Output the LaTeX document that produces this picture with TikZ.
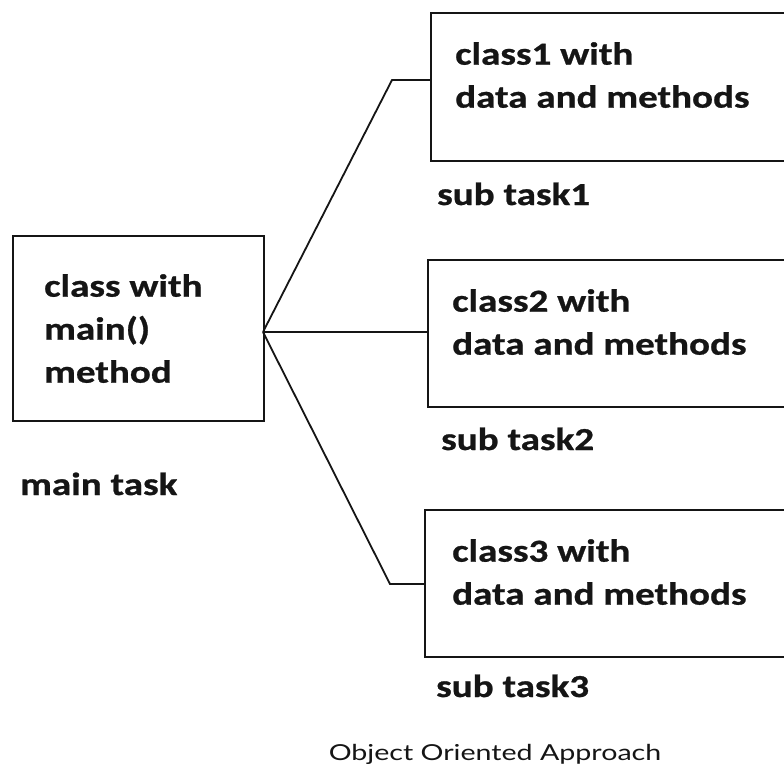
\documentclass[tikz,border=0pt]{standalone}
\usepackage{fontspec}
\newfontfamily\boxfont{Carlito}[FakeStretch=1.22, BoldFeatures={FakeBold=0.8}]
\newfontfamily\capfont{Lato}[FakeStretch=1.3]
\definecolor{ink}{HTML}{151515}
\tikzset{
  x=1pt, y=-1pt,
  classbox/.style={draw=ink, line width=2.2pt, rectangle, inner sep=0pt, anchor=north west},
  boxtext/.style={anchor=north west, inner sep=0pt, align=left, text=ink,
    font=\boxfont\bfseries\fontsize{32}{43}\selectfont},
  tasklabel/.style={anchor=base west, inner sep=0pt, text=ink,
    font=\boxfont\bfseries\fontsize{32}{43}\selectfont},
  link/.style={draw=ink, line width=1.8pt, line join=miter},
}
\begin{document}
\begin{tikzpicture}
  \useasboundingbox (0,0) rectangle (784,774);
  \clip (0,0) rectangle (784,774);
  \fill[white] (0,0) rectangle (784,774);

  % main class
  \node[classbox, minimum width=251pt, minimum height=185pt] (main) at (12,235) {};
  \node[boxtext] (maintxt) at (44,274) {class with\\main()\\method};
  \node[tasklabel] (mainlbl) at (20,495) {main task};

  % sub classes (right edges run off the page)
  \node[classbox, minimum width=370pt, minimum height=148pt] (b1) at (430,12) {};
  \node[boxtext] (t1) at (455,42) {class1 with\\data and methods};
  \node[tasklabel] (l1) at (437,205) {sub task1};

  \node[classbox, minimum width=370pt, minimum height=147pt] (b2) at (427,259) {};
  \node[boxtext] (t2) at (452,289) {class2 with\\data and methods};
  \node[tasklabel] (l2) at (441,450) {sub task2};

  \node[classbox, minimum width=370pt, minimum height=147pt] (b3) at (424,509) {};
  \node[boxtext] (t3) at (452,539) {class3 with\\data and methods};
  \node[tasklabel] (l3) at (436,697) {sub task3};

  % connectors
  \coordinate (hub) at (263,332);
  \coordinate (c1) at (392,80);
  \coordinate (c3) at (390,584);
  \draw[link] (hub) -- (c1) -- (c1 -| b1.west);
  \draw[link] (hub) -- (hub -| b2.west);
  \draw[link] (hub) -- (c3) -- (c3 -| b3.west);

  % caption
  \node[anchor=base, inner sep=0pt, text=ink, font=\capfont\fontsize{22}{26}\selectfont]
    (cap) at (495,760) {Object Oriented Approach};
\end{tikzpicture}
\end{document}
